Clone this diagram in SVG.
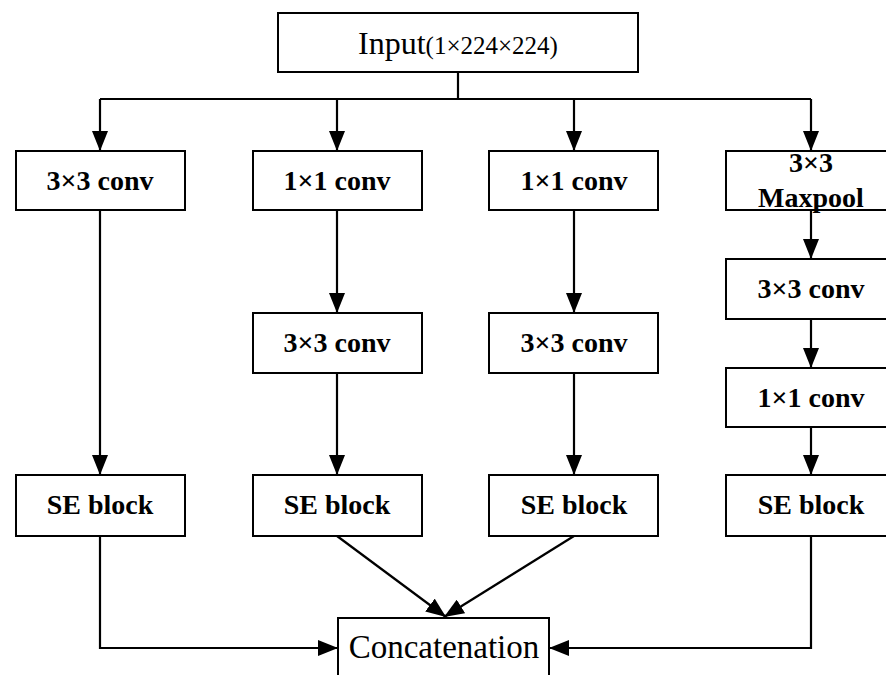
<svg xmlns="http://www.w3.org/2000/svg" width="886" height="675" viewBox="0 0 886 675">
<defs>
<marker id="ah" markerUnits="userSpaceOnUse" markerWidth="20" markerHeight="16" viewBox="0 0 20 16" refX="20" refY="8" orient="auto">
<path d="M0,0 L20,8 L0,16 Z" fill="#000"/>
</marker>
<style>
.box{fill:#fff;stroke:#000;stroke-width:2}
.lbl{font-weight:bold;font-size:28px;text-anchor:middle;fill:#000}
.reg{fill:#000}
.ln{fill:none;stroke:#000;stroke-width:2.2}
.ar{fill:none;stroke:#000;stroke-width:2.2;marker-end:url(#ah)}
</style>
</defs>
<rect width="886" height="675" fill="#fff"/>
<g id="connectors">
<path class="ln" d="M458,72 V99 M100,99 H811"/>
<path class="ar" d="M100,99 V151"/>
<path class="ar" d="M337,99 V151"/>
<path class="ar" d="M574,99 V151"/>
<path class="ar" d="M811,99 V151"/>
<path class="ar" d="M100,210 V475"/>
<path class="ar" d="M337,210 V313"/>
<path class="ar" d="M574,210 V313"/>
<path class="ar" d="M811,210 V259"/>
<path class="ar" d="M337,373 V475"/>
<path class="ar" d="M574,373 V475"/>
<path class="ar" d="M811,319 V368"/>
<path class="ar" d="M811,427 V475"/>
<path class="ar" d="M100,536 V648 H338"/>
<path class="ar" d="M811,536 V648 H549"/>
<path class="ar" d="M337,536 L446,617"/>
<path class="ar" d="M574,536 L444,617"/>
</g>
<g font-family="Liberation Serif, Times New Roman, DejaVu Serif, serif">
<g id="input">
<rect class="box" x="278" y="13" width="360" height="59"/>
<text class="reg" x="458" y="54" text-anchor="middle"><tspan font-size="32">Input</tspan><tspan font-size="25">(1×224×224)</tspan></text>
</g>
<g id="c1_conv3">
<rect class="box" x="16" y="151" width="169" height="59"/>
<text class="lbl" x="100" y="190">3×3 conv</text>
</g>
<g id="c2_conv1">
<rect class="box" x="253" y="151" width="169" height="59"/>
<text class="lbl" x="337" y="190">1×1 conv</text>
</g>
<g id="c3_conv1">
<rect class="box" x="489" y="151" width="169" height="59"/>
<text class="lbl" x="574" y="190">1×1 conv</text>
</g>
<g id="c4_maxpool">
<rect class="box" x="726" y="151" width="170" height="59"/>
<text class="lbl" x="811" y="172">3×3</text>
<text class="lbl" x="811" y="207">Maxpool</text>
</g>
<g id="c2_conv3">
<rect class="box" x="253" y="313" width="169" height="60"/>
<text class="lbl" x="337" y="352">3×3 conv</text>
</g>
<g id="c3_conv3">
<rect class="box" x="489" y="313" width="169" height="60"/>
<text class="lbl" x="574" y="352">3×3 conv</text>
</g>
<g id="c4_conv3">
<rect class="box" x="726" y="259" width="170" height="60"/>
<text class="lbl" x="811" y="298">3×3 conv</text>
</g>
<g id="c4_conv1">
<rect class="box" x="726" y="368" width="170" height="59"/>
<text class="lbl" x="811" y="407">1×1 conv</text>
</g>
<g id="c1_se">
<rect class="box" x="16" y="475" width="169" height="61"/>
<text class="lbl" x="100" y="514">SE block</text>
</g>
<g id="c2_se">
<rect class="box" x="253" y="475" width="169" height="61"/>
<text class="lbl" x="337" y="514">SE block</text>
</g>
<g id="c3_se">
<rect class="box" x="489" y="475" width="169" height="61"/>
<text class="lbl" x="574" y="514">SE block</text>
</g>
<g id="c4_se">
<rect class="box" x="726" y="475" width="170" height="61"/>
<text class="lbl" x="811" y="514">SE block</text>
</g>
<g id="concat">
<rect class="box" x="338" y="618" width="211" height="70"/>
<text class="reg" x="444" y="658" font-size="33" text-anchor="middle">Concatenation</text>
</g>
</g>
</svg>
